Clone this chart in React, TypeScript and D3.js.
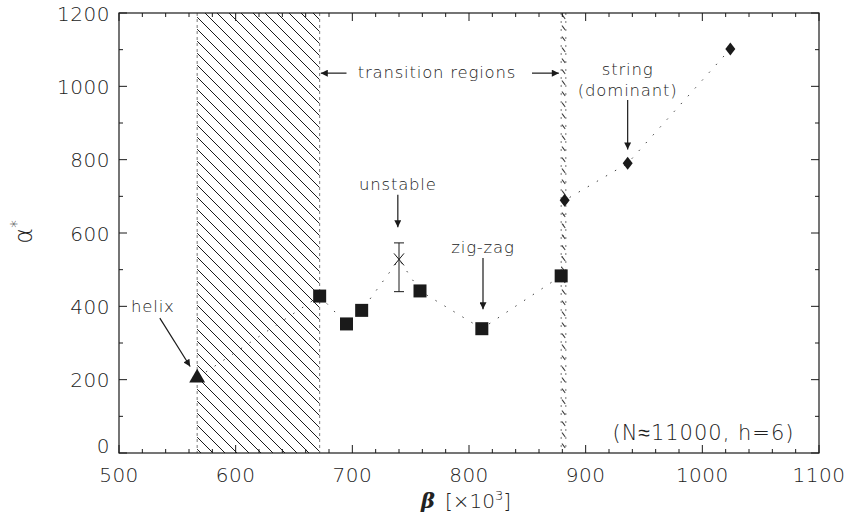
import React from "react";
import * as d3 from "d3";

// data (beta in 10^3, alpha*)
const helixX = [567];
const helixY = [205];
const zigzagX = [672, 695, 708, 758, 811, 879];
const zigzagY = [428, 352, 389, 442, 339, 483];
const unstableX = [740];
const unstableY = [528];
const unstableLo = [440];
const unstableHi = [573];
const stringX = [882, 936, 1024];
const stringY = [689, 790, 1102];
const regionStart = [567, 879];
const regionEnd = [672, 883];
const xTicks = [500, 600, 700, 800, 900, 1000, 1100];
const yTicks = [0, 200, 400, 600, 800, 1000, 1200];

const W = 844;
const H = 524;
const FONT = "'DejaVu Sans', sans-serif";
const INK = "#1a1a1a";
const TXT = "#222";

const App = () => {
  const x = d3.scaleLinear().domain([500, 1100]).range([119, 819]);
  const y = d3.scaleLinear().domain([0, 1200]).range([453, 13]);
  const [x0, x1] = x.range();
  const [y0, y1] = y.range();

  // all points joined by the dotted guide line, in beta order
  const pts: [number, number][] = [
    ...helixX.map((v, i) => [v, helixY[i]] as [number, number]),
    ...zigzagX.map((v, i) => [v, zigzagY[i]] as [number, number]),
    ...unstableX.map((v, i) => [v, unstableY[i]] as [number, number]),
    ...stringX.map((v, i) => [v, stringY[i]] as [number, number]),
  ].sort((a, b) => a[0] - b[0]);
  const line = d3
    .line<[number, number]>()
    .x((d) => x(d[0]))
    .y((d) => y(d[1]));

  const minorX = d3.range(500, 1101, 20);
  const minorY = d3.range(0, 1201, 100);

  // annotation arrows in data units
  const arrows = [
    { from: [535, 368], to: [561, 236] },
    { from: [739, 704], to: [739, 616] },
    { from: [812, 532], to: [812, 392] },
    { from: [936, 963], to: [936, 828] },
    { from: [695, 1036], to: [673, 1036] },
    { from: [854, 1036], to: [877, 1036] },
  ];

  return (
    <svg
      width={W}
      height={H}
      style={{ position: "absolute", left: 0, top: 0, background: "#fff" }}
    >
      <defs>
        <pattern
          id="hatch"
          width={12}
          height={12}
          patternUnits="userSpaceOnUse"
        >
          <path
            d="M0,0 L12,12 M-6,6 L6,18 M6,-6 L18,6"
            stroke={INK}
            strokeWidth={1}
          />
        </pattern>
        <pattern
          id="hatch2"
          x={x(regionStart[1])}
          y={y1}
          width={x(regionEnd[1]) - x(regionStart[1])}
          height={11}
          patternUnits="userSpaceOnUse"
        >
          <path d="M0.8,1.5 L4,6" stroke="#333" strokeWidth={1.1} />
        </pattern>
        <marker
          id="head"
          viewBox="0 0 10 10"
          refX={10}
          refY={5}
          markerWidth={9}
          markerHeight={7}
          markerUnits="userSpaceOnUse"
          orient="auto"
        >
          <path d="M0,0 L10,5 L0,10 Z" fill={INK} />
        </marker>
      </defs>

      {/* transition regions */}
      {regionStart.map((s, i) => {
        const xa = x(s);
        const xb = x(regionEnd[i]);
        return (
          <g key={"reg" + i}>
            <rect
              x={xa}
              y={y1}
              width={xb - xa}
              height={y0 - y1}
              fill={i === 0 ? "url(#hatch)" : "url(#hatch2)"}
            />
            <line
              x1={xa}
              x2={xa}
              y1={y1}
              y2={y0}
              stroke="#777"
              strokeDasharray={i === 0 ? "3 3" : "2 6"}
            />
            <line
              x1={xb}
              x2={xb}
              y1={y1}
              y2={y0}
              stroke="#777"
              strokeDasharray={i === 0 ? "3 3" : "2 6"}
            />
          </g>
        );
      })}

      {/* frame */}
      <rect
        x={x0}
        y={y1}
        width={x1 - x0}
        height={y0 - y1}
        fill="none"
        stroke={INK}
        strokeWidth={1.2}
      />

      {/* ticks on all four sides, pointing in */}
      {minorX.map((v) => {
        const len = v % 100 === 0 ? 8 : 4;
        return (
          <g key={"xt" + v} stroke={INK} strokeWidth={1}>
            <line x1={x(v)} x2={x(v)} y1={y0} y2={y0 - len} />
            <line x1={x(v)} x2={x(v)} y1={y1} y2={y1 + len} />
          </g>
        );
      })}
      {minorY.map((v) => {
        const len = v % 200 === 0 ? 8 : 4;
        return (
          <g key={"yt" + v} stroke={INK} strokeWidth={1}>
            <line x1={x0} x2={x0 + len} y1={y(v)} y2={y(v)} />
            <line x1={x1} x2={x1 - len} y1={y(v)} y2={y(v)} />
          </g>
        );
      })}

      {/* tick labels */}
      <g fontFamily={FONT} fontWeight={200} fontSize={20} fill={TXT} letterSpacing={0.5}>
        {xTicks.map((v) => (
          <text key={"xl" + v} x={x(v)} y={482} textAnchor="middle">
            {v}
          </text>
        ))}
        {yTicks.map((v) => (
          <text
            key={"yl" + v}
            x={110}
            y={y(v) + (v === 0 ? 0 : 7.5)}
            textAnchor="end"
          >
            {v}
          </text>
        ))}
      </g>

      {/* axis titles */}
      <g fontFamily={FONT} fontWeight={200} fill={TXT}>
        <text x={466} y={508} textAnchor="middle" fontSize={20}>
          <tspan
            fontStyle="italic"
            fontWeight={700}
            fontFamily="'DejaVu Serif', serif"
            fontSize={21}
          >
            β
          </tspan>
          <tspan dx={10}>[×10</tspan>
          <tspan dy={-8} fontSize={13}>
            3
          </tspan>
          <tspan dy={8}>]</tspan>
        </text>
        <text
          transform="translate(32,232) rotate(-90)"
          textAnchor="middle"
          fontSize={24}
        >
          α
          <tspan dy={-10} fontSize={15}>
            *
          </tspan>
        </text>
      </g>

      {/* dotted guide line */}
      <path
        d={line(pts) || ""}
        fill="none"
        stroke="#444"
        strokeWidth={1}
        strokeDasharray="1.5 9"
      />

      {/* error bar for the unstable point */}
      {unstableX.map((v, i) => (
        <g key={"eb" + i} stroke={INK} strokeWidth={1}>
          <line x1={x(v)} x2={x(v)} y1={y(unstableLo[i])} y2={y(unstableHi[i])} />
          <line x1={x(v) - 5} x2={x(v) + 5} y1={y(unstableLo[i])} y2={y(unstableLo[i])} />
          <line x1={x(v) - 5} x2={x(v) + 5} y1={y(unstableHi[i])} y2={y(unstableHi[i])} />
          <path
            d={`M${x(v) - 5},${y(unstableY[i]) - 6} L${x(v) + 5},${y(unstableY[i]) + 6} M${x(v) + 5},${y(unstableY[i]) - 6} L${x(v) - 5},${y(unstableY[i]) + 6}`}
          />
        </g>
      ))}

      {/* markers */}
      {helixX.map((v, i) => (
        <path
          key={"tri" + i}
          d={d3.symbol(d3.symbolTriangle, 110)() || ""}
          transform={`translate(${x(v)},${y(helixY[i])})`}
          fill={INK}
        />
      ))}
      {zigzagX.map((v, i) => (
        <rect
          key={"sq" + i}
          x={x(v) - 6.5}
          y={y(zigzagY[i]) - 6.5}
          width={13}
          height={13}
          fill={INK}
        />
      ))}
      {stringX.map((v, i) => (
        <path
          key={"dm" + i}
          d="M0,-6.5 L5,0 L0,6.5 L-5,0 Z"
          transform={`translate(${x(v)},${y(stringY[i])})`}
          fill={INK}
        />
      ))}

      {/* annotation arrows */}
      {arrows.map((a, i) => (
        <line
          key={"ar" + i}
          x1={x(a.from[0])}
          y1={y(a.from[1])}
          x2={x(a.to[0])}
          y2={y(a.to[1])}
          stroke={INK}
          strokeWidth={1.2}
          markerEnd="url(#head)"
        />
      ))}

      {/* annotation labels */}
      <g
        fontFamily={FONT}
        fontWeight={200}
        fontSize={16.5}
        fill={TXT}
        textAnchor="middle"
        letterSpacing={0.8}
      >
        <text x={x(529)} y={y(398) + 5}>helix</text>
        <text x={x(739)} y={y(731) + 5}>unstable</text>
        <text x={x(812)} y={y(559) + 5}>zig-zag</text>
        <text x={x(936)} y={y(1039) + 3}>string</text>
        <text x={x(936)} y={y(990) + 6}>(dominant)</text>
        <text x={x(772.5)} y={y(1036) + 5}>transition regions</text>
      </g>
      <text
        x={x(1079)}
        y={y(35)}
        textAnchor="end"
        fontFamily={FONT}
        fontWeight={200}
        fontSize={21}
        letterSpacing={1}
        fill={TXT}
      >
        (N≈11000, h=6)
      </text>
    </svg>
  );
};

export default App;
